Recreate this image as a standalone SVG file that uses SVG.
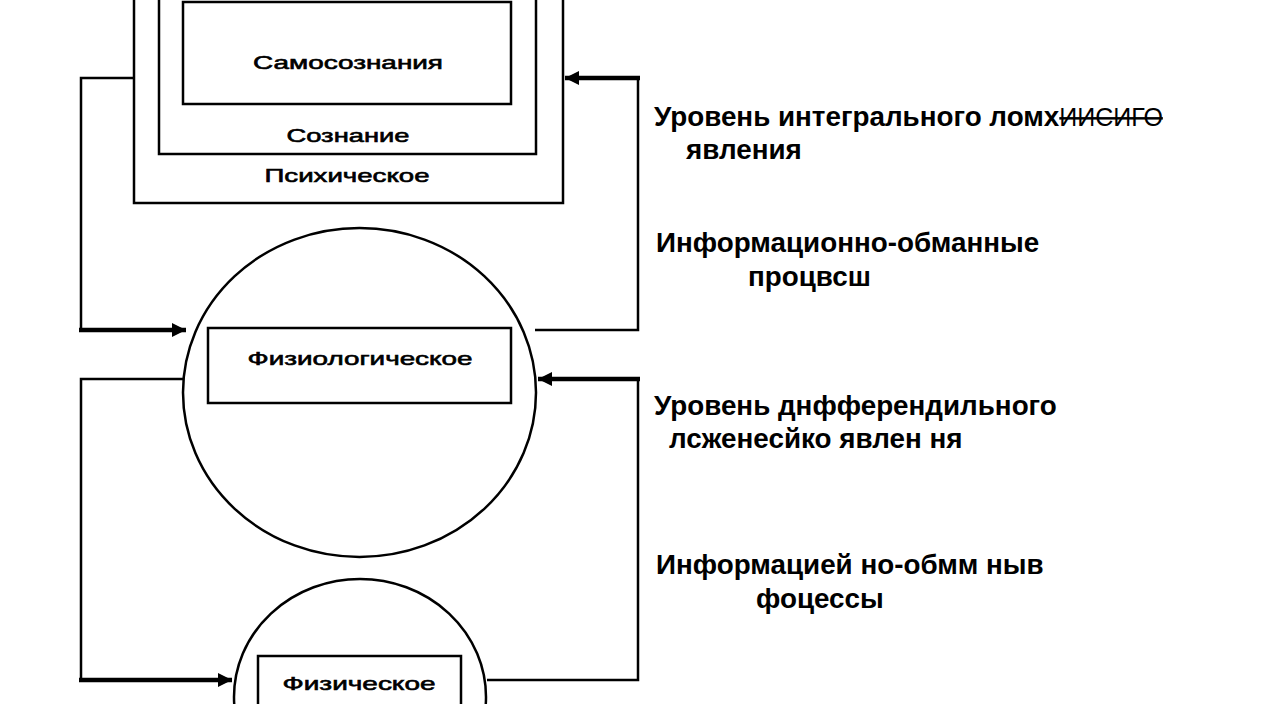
<svg xmlns="http://www.w3.org/2000/svg" width="1280" height="704" viewBox="0 0 1280 704">
<style>
.box{fill:none;stroke:#000;stroke-width:2.5}
.circ{fill:none;stroke:#000;stroke-width:2.5}
.lbl{font-family:"Liberation Sans",Arial,sans-serif;font-size:19px;fill:#000;text-anchor:middle;stroke:#000;stroke-width:0.6}
.thin{fill:none;stroke:#000;stroke-width:2.5}
.thick{fill:none;stroke:#000;stroke-width:4.5}
.side{font-family:"Liberation Sans",Arial,sans-serif;font-size:27.8px;font-weight:bold;fill:#000}
</style>
<defs>
<marker id="ah" viewBox="0 0 10 10" refX="10" refY="5" markerWidth="18" markerHeight="14" markerUnits="userSpaceOnUse" orient="auto">
<path d="M0,0 L10,5 L0,10 z" fill="#000"/>
</marker>
</defs>
<rect width="1280" height="704" fill="#fff"/>
<g id="psych">
<rect class="box" x="134" y="-10" width="429" height="213"/>
<text class="lbl" x="347" y="182" textLength="165" lengthAdjust="spacingAndGlyphs">Психическое</text>
</g>
<g id="consc">
<rect class="box" x="159" y="-10" width="377" height="164"/>
<text class="lbl" x="348" y="142" textLength="123" lengthAdjust="spacingAndGlyphs">Сознание</text>
</g>
<g id="self">
<rect class="box" x="183" y="2" width="328" height="102"/>
<text class="lbl" x="348" y="69" textLength="190" lengthAdjust="spacingAndGlyphs">Самосознания</text>
</g>
<g id="physio">
<ellipse class="circ" cx="359.5" cy="392.5" rx="176.5" ry="164.5"/>
<rect class="box" x="208" y="328" width="303" height="75" fill="#fff"/>
<text class="lbl" x="360" y="365" textLength="225" lengthAdjust="spacingAndGlyphs">Физиологическое</text>
</g>
<g id="phys">
<ellipse class="circ" cx="360" cy="697" rx="126" ry="118"/>
<rect class="box" x="258" y="656" width="203" height="70" fill="#fff"/>
<text class="lbl" x="359" y="690" textLength="153" lengthAdjust="spacingAndGlyphs">Физическое</text>
</g>
<g id="connectors">
<path class="thin" d="M134,78 H81 V330"/>
<path class="thick" d="M79,330 H186" marker-end="url(#ah)"/>
<path class="thick" d="M640,78 H565" marker-end="url(#ah)"/>
<path class="thin" d="M638,78 V330 H535"/>
<path class="thin" d="M183,379 H81 V680"/>
<path class="thick" d="M79,680 H232" marker-end="url(#ah)"/>
<path class="thick" d="M640,379 H538" marker-end="url(#ah)"/>
<path class="thin" d="M638,379 V680 H487"/>
</g>
<g id="labels">
<text class="side" x="654" y="126">Уровень интегрального ломх<tspan font-weight="normal" font-size="25px" text-decoration="line-through">ИИСИГО</tspan></text>
<text class="side" x="686" y="159">явления</text>
<text class="side" x="656" y="252">Информационно-обманные</text>
<text class="side" x="748" y="286">процвсш</text>
<text class="side" x="654" y="415">Уровень днфферендильного</text>
<text class="side" x="669" y="448">лсженесйко явлен ня</text>
<text class="side" x="656" y="574">Информацией но-обмм ныв</text>
<text class="side" x="756" y="608">фоцессы</text>
</g>
</svg>
